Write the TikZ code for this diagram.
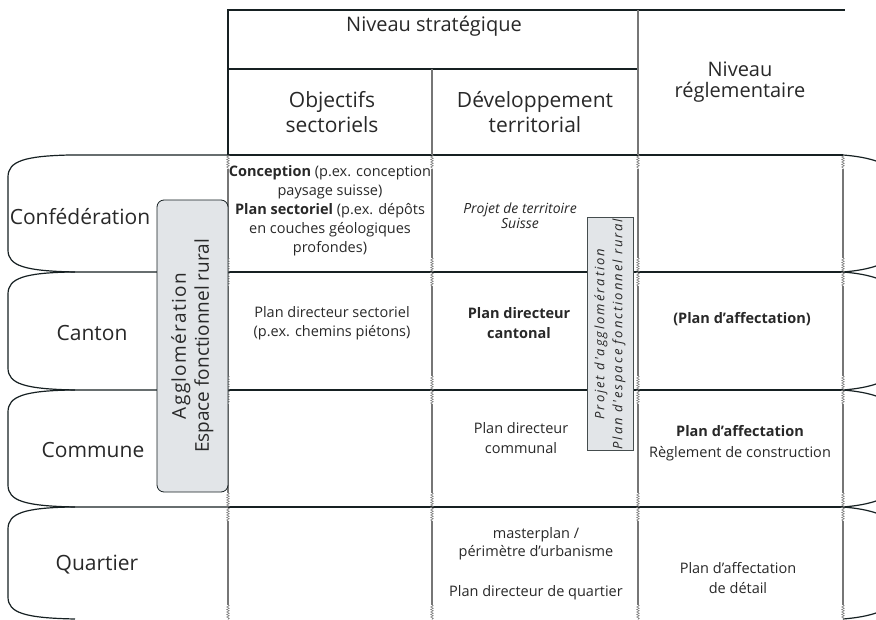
\documentclass[tikz,border=0pt]{standalone}
\usepackage{fontspec}
\setmainfont{Open Sans}
\newfontfamily\spacedsans[LetterSpace=7]{Open Sans}
\newfontfamily\widesans[LetterSpace=15]{Open Sans}
\usepackage{xcolor}
\usetikzlibrary{decorations.pathmorphing}
\definecolor{ColLine}{RGB}{22,32,34}
\definecolor{ColGrid}{RGB}{118,118,118}
\definecolor{ColBox}{RGB}{226,229,232}
\definecolor{ColText}{RGB}{40,40,40}
\tikzstyle{HeadLine}=[ColLine,line width=1.3pt]
\tikzstyle{ScrollEdge}=[ColLine,line width=1.2pt]
\tikzstyle{GridLine}=[ColGrid,line width=1.8pt]
\tikzstyle{GridSnake}=[ColGrid,line width=.5pt,decorate,
decoration={snake,segment length=2.5pt,amplitude=1.3pt}]
\tikzstyle{RowLabel}=[text=ColText,font=\fontsize{21}{25}\selectfont]
\tikzstyle{HeadText}=[text=ColText,align=center,font=\fontsize{21}{25}\selectfont]
\tikzstyle{LevelText}=[text=ColText,align=center,font=\fontsize{20}{20.5}\selectfont]
\tikzstyle{CellText}=[text=ColText,align=center,inner sep=1pt,font=\fontsize{14.5}{19.5}\selectfont]
\tikzstyle{BoxAgglo}=[draw=ColLine,fill=ColBox,thick,rounded corners=7pt,rotate=90,
align=center,text=ColText,font=\fontsize{19}{23}\selectfont]
\tikzstyle{BoxProjet}=[draw=ColLine!80,fill=ColBox,thick,rotate=90,inner sep=1pt,
align=center,text=ColText,font=\widesans\itshape\fontsize{13}{18}\selectfont]

\begin{document}
\begin{tikzpicture}[x=1pt,y=-1pt]
        \useasboundingbox (0,0) rectangle (876,620);
        \clip (0,0) rectangle (876,620);
        % rows with rolled ends
        \foreach \yt/\yb in {155/272,272/390,390/507,507/619}{
            \draw[ScrollEdge] (228,\yt) -- (70,\yt) .. controls (25,\yt+1) and (8,\yt+6) .. (8,\yt+22)
                -- (8,\yb-22) .. controls (8,\yb-6) and (25,\yb-1) .. (75,\yb);
            \draw[ScrollEdge] (843,\yt) .. controls (868,\yt+2) and (894,\yt+8) .. (896,\yt+24)
                -- (896,\yb-24) .. controls (894,\yb-8) and (868,\yb-2) .. (843,\yb);
        }
        \foreach \y in {155,272,390,507}
            \draw[ScrollEdge] (228,\y) -- (843,\y);
        % grid
        \foreach \x in {228,432,638,843}{
            \foreach \ya/\yb in {169/258,286/376,404/493,521/605}
                \draw[GridLine] (\x,\ya) -- (\x,\yb);
            \foreach \ya/\yb in {155/169,258/286,376/404,493/521,605/620}
                \draw[GridSnake] (\x,\ya) -- (\x,\yb);
        }
        % header
        \draw[HeadLine] (228,155) -- (228,10) -- (845,10);
        \draw[HeadLine] (228,69) -- (638,69);
        \draw[GridLine] (432,69) -- (432,155);
        \draw[GridLine] (638,10) -- (638,155);
        \node[LevelText](strat)at(434,26){Niveau stratégique};
        \node[HeadText](obj)at(332,112){Objectifs\\sectoriels};
        \node[HeadText](dev)at(535,112){Développement\\territorial};
        \node[LevelText](regl)at(740,82){Niveau\\réglementaire};
        % row labels
        \node[RowLabel](conf)at(80,217){Confédération};
        \node[RowLabel](cant)at(92,333){Canton};
        \node[RowLabel](comm)at(93,450){Commune};
        \node[RowLabel](quart)at(97,565){Quartier};
        % cells
        \node[CellText,font=\fontsize{14.5}{19}\selectfont](confObj)at(330,211){\textbf{Conception} (p.ex. conception\\
            paysage suisse)\\\textbf{Plan sectoriel} (p.ex. dépôts\\en couches géologiques\\profondes)};
        \node[CellText,font=\itshape\fontsize{14}{14.5}\selectfont](confDev)at(520,216){Projet de territoire\\Suisse};
        \node[CellText](cantObj)at(332,323){Plan directeur sectoriel\\(p.ex. chemins piétons)};
        \node[CellText,font=\bfseries\fontsize{14.5}{19.5}\selectfont](cantDev)at(519,323){Plan directeur\\cantonal};
        \node[CellText,font=\bfseries\fontsize{14.5}{19.5}\selectfont](cantRegl)at(742,319){(Plan d'affectation)};
        \node[CellText](commDev)at(521,438){Plan directeur\\communal};
        \node[CellText,font=\fontsize{14.5}{21}\selectfont](commRegl)at(740,443){\textbf{Plan d'affectation}\\Règlement de construction};
        \node[CellText,font=\fontsize{14.5}{18}\selectfont](quartDev)at(536,564){masterplan /\\périmètre d'urbanisme\\[22pt]Plan directeur de quartier};
        \node[CellText](quartRegl)at(738,578){Plan d'affectation\\de détail};
        % overlapping perimeters
        \node[BoxAgglo,minimum width=292pt,minimum height=71pt](aggl)at(192.5,346){{\spacedsans Agglomération}\\Espace fonctionnel rural};
        \node[BoxProjet,minimum width=222pt,minimum height=46pt](projet)at(610,334){Projet d'agglomération\\Plan d'espace fonctionnel rural};
    \end{tikzpicture}
\end{document}
